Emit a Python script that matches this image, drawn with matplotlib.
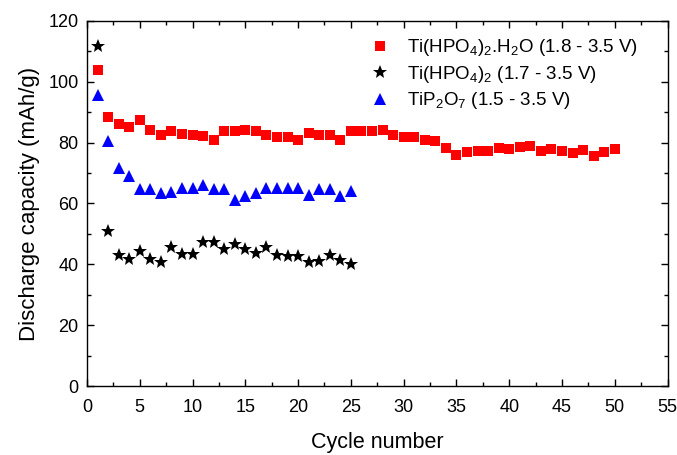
import matplotlib
matplotlib.use("Agg")
import matplotlib.pyplot as plt
from matplotlib.ticker import MultipleLocator

plt.rcParams['font.family'] = ['Liberation Sans', 'DejaVu Sans']
plt.rcParams['mathtext.fontset'] = 'custom'
plt.rcParams['mathtext.rm'] = 'Liberation Sans'
plt.rcParams['mathtext.it'] = 'Liberation Sans:italic'
plt.rcParams['mathtext.bf'] = 'Liberation Sans:bold'

cycles_h2o = list(range(1, 51))
cap_h2o = [104, 88.4, 86.0, 85.3, 87.4, 84.2, 82.5, 83.8, 83.0, 82.5,
           82.2, 80.7, 83.9, 83.9, 84.2, 83.8, 82.5, 82.0, 82.0, 80.8,
           83.2, 82.4, 82.4, 80.8, 83.9, 83.9, 83.9, 84.2, 82.4, 81.9,
           81.9, 80.9, 80.4, 78.1, 75.9, 76.8, 77.4, 77.1, 78.1, 77.8,
           78.5, 79.0, 77.3, 77.8, 77.1, 76.6, 77.7, 75.7, 76.8, 77.8]

cycles_hpo = list(range(1, 26))
cap_hpo = [111.6, 51.0, 43.1, 41.7, 44.3, 41.6, 40.8, 45.8, 43.5, 43.5,
           47.5, 47.4, 45.0, 46.6, 45.0, 43.8, 45.6, 43.1, 42.9, 42.9,
           40.9, 41.0, 43.2, 41.3, 40.2]

cycles_tip = list(range(1, 26))
cap_tip = [95.6, 80.6, 71.8, 69.1, 64.7, 64.7, 63.5, 63.9, 65.1, 65.0,
           66.0, 64.6, 64.6, 61.0, 62.5, 63.4, 65.0, 65.1, 65.1, 65.1,
           62.9, 64.8, 64.8, 62.4, 64.0]

labels = [r'Ti(HPO$_4$)$_2$.H$_2$O (1.8 - 3.5 V)',
          r'Ti(HPO$_4$)$_2$ (1.7 - 3.5 V)',
          r'TiP$_2$O$_7$ (1.5 - 3.5 V)']

fig = plt.figure(figsize=(6.77, 4.55), dpi=100)
ax = fig.add_axes([0.1285, 0.1516, 0.8575, 0.8024])

ax.plot(cycles_h2o, cap_h2o, 's', color='#ff0000', markersize=7, markeredgewidth=0, label=labels[0], linestyle='none')
ax.plot(cycles_hpo, cap_hpo, '*', color='black', markersize=10, markeredgewidth=0, label=labels[1], linestyle='none')
ax.plot(cycles_tip, cap_tip, '^', color='#0000ff', markersize=9, markeredgewidth=0, label=labels[2], linestyle='none')

ax.set_xlim(0, 55)
ax.set_ylim(0, 120)
ax.xaxis.set_major_locator(MultipleLocator(5))
ax.xaxis.set_minor_locator(MultipleLocator(2.5))
ax.yaxis.set_major_locator(MultipleLocator(20))
ax.yaxis.set_minor_locator(MultipleLocator(10))
ax.tick_params(which='both', direction='in', top=True, right=True, labelsize=13, width=1)
ax.tick_params(which='major', length=5)
ax.tick_params(which='minor', length=3)
ax.tick_params(axis='x', pad=9)
ax.tick_params(axis='y', pad=6)
for s in ax.spines.values():
    s.set_linewidth(1)

ax.set_xlabel('Cycle number', fontsize=15.5, labelpad=12)
ax.set_ylabel('Discharge capacity (mAh/g)', fontsize=16, labelpad=6)

ax.legend(loc='upper left', bbox_to_anchor=(0.476, 0.976), frameon=False, fontsize=13.5,
          handletextpad=0.92, labelspacing=0.3, borderaxespad=0.0, handlelength=1.0)

fig.savefig('out.png', dpi=100)
